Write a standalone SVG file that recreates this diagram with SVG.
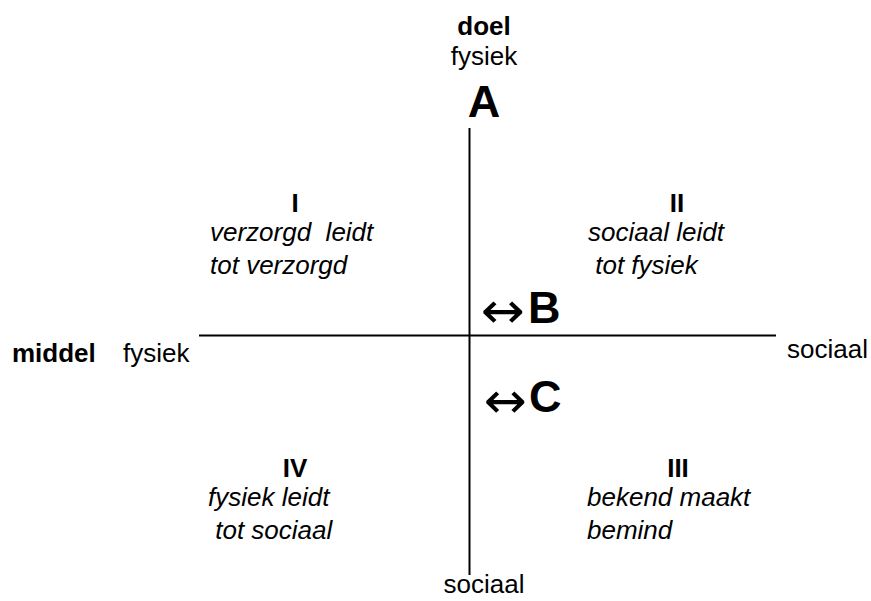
<svg xmlns="http://www.w3.org/2000/svg" width="871" height="601" viewBox="0 0 871 601">
<style>
text{font-family:"Liberation Sans",Arial,sans-serif;fill:#000;font-size:26px}
.b{font-weight:bold}
.i{font-style:italic}
.big{font-size:45px;font-weight:bold}
.ar{font-family:"DejaVu Sans",sans-serif;font-size:50px;font-weight:normal}
.m{text-anchor:middle}
.ax{stroke:#000;stroke-width:2;fill:none}
</style>
<rect width="871" height="601" fill="#fff"/>
<g id="connectors">
<line class="ax" x1="469.5" y1="128" x2="469.5" y2="575"/>
<line class="ax" x1="199" y1="335.5" x2="776" y2="335.5"/>
</g>
<g id="top">
<text class="b m" x="484" y="35">doel</text>
<text class="m" x="484" y="65">fysiek</text>
<text class="big m" x="484" y="117">A</text>
</g>
<g id="left">
<text class="b" x="12" y="362">middel</text>
<text x="123" y="362">fysiek</text>
</g>
<g id="right">
<text x="787" y="358">sociaal</text>
</g>
<g id="bottom">
<text class="m" x="484" y="593">sociaal</text>
</g>
<g id="q1">
<text class="b m" x="295" y="212">I</text>
<text class="i" x="210" y="241" xml:space="preserve">verzorgd  leidt</text>
<text class="i" x="210" y="274">tot verzorgd</text>
</g>
<g id="q2">
<text class="b m" x="677" y="212">II</text>
<text class="i" x="588" y="241">sociaal leidt</text>
<text class="i" x="588" y="274" xml:space="preserve"> tot fysiek</text>
</g>
<g id="q3">
<text class="b m" x="678" y="477">III</text>
<text class="i" x="587" y="506">bekend maakt</text>
<text class="i" x="587" y="539">bemind</text>
</g>
<g id="q4">
<text class="b m" x="295" y="477">IV</text>
<text class="i" x="208" y="506">fysiek leidt</text>
<text class="i" x="208" y="539" xml:space="preserve"> tot sociaal</text>
</g>
<g id="B">
<text class="ar" x="481" y="328" textLength="44" lengthAdjust="spacingAndGlyphs">↔</text>
<text class="big" x="528" y="323">B</text>
</g>
<g id="C">
<text class="ar" x="484" y="418" textLength="43" lengthAdjust="spacingAndGlyphs">↔</text>
<text class="big" x="529" y="412">C</text>
</g>
</svg>
